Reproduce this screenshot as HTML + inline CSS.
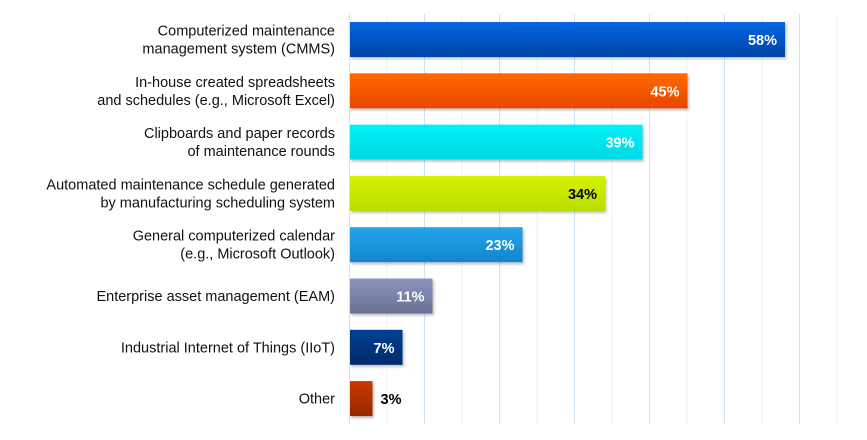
<!DOCTYPE html>
<html><head><meta charset="utf-8"><style>
body{margin:0;background:#fff;font-family:"Liberation Sans",Arial,sans-serif}
svg{display:block}
</style></head><body>
<svg id="chart" width="867" height="440">
<defs>
<filter id="sh" x="-5%" y="-10%" width="115%" height="140%"><feDropShadow dx="1.5" dy="2" stdDeviation="1.2" flood-color="#000" flood-opacity="0.25"/></filter>
</defs>
<g id="grid"></g><g id="bars"></g><g id="labels"></g>
</svg>
<script>
const categories=[["Computerized maintenance","management system (CMMS)"],["In-house created spreadsheets","and schedules (e.g., Microsoft Excel)"],["Clipboards and paper records","of maintenance rounds"],["Automated maintenance schedule generated","by manufacturing scheduling system"],["General computerized calendar","(e.g., Microsoft Outlook)"],["Enterprise asset management (EAM)"],["Industrial Internet of Things (IIoT)"],["Other"]];
const values=[58,45,39,34,23,11,7,3];
const colorsTop=["#0766e2","#ff6a00","#06f2f6","#d4f200","#22a6ea","#8c94bc","#003f92","#c83a00"];
const colorsBot=["#0045a6","#e84600","#00d8e4","#b8dc00","#1284cc","#6a7194","#002a6c","#962800"];
const textColors=["#fff","#fff","#fff","#000","#fff","#fff","#fff","#000"];
const gridTicks=[0,5,10,15,20,25,30,35,40,45,50,55,60,65];
const NS="http://www.w3.org/2000/svg";
const x0=350,pxPer=7.5,top0=39.5,pitch=51.3,bh=35;
const xs=v=>x0+v*pxPer, ys=i=>top0+i*pitch;
const svg=document.getElementById('chart'),G=document.getElementById('grid'),B=document.getElementById('bars'),L=document.getElementById('labels');
function mk(t,a,p){const e=document.createElementNS(NS,t);for(const k in a)e.setAttribute(k,a[k]);p.appendChild(e);return e;}
const defs=svg.querySelector('defs');
gridTicks.forEach(t=>{
 const l=mk('line',{x1:xs(t)-0.5,x2:xs(t)-0.5,y1:14,y2:424,stroke:t%10===0?'#cfe3f7':'#eaf3fc','stroke-width':1},G);
 
 
});
values.forEach((v,i)=>{
 const gid='g'+i;
 const g=mk('linearGradient',{id:gid,x1:0,y1:0,x2:0,y2:1},defs);
 mk('stop',{offset:0,'stop-color':colorsTop[i]},g);mk('stop',{offset:1,'stop-color':colorsBot[i]},g);
 const cy=ys(i);
 const r=mk('rect',{x:x0,y:cy-bh/2,width:xs(v)-x0,height:bh,fill:'url(#'+gid+')',filter:'url(#sh)'},B);
 
 
 const inside=v>5;
 const vt=mk('text',{x:inside?xs(v)-8:xs(v)+8,y:cy+5.5,'text-anchor':inside?'end':'start','font-size':14.5,'font-weight':'bold',fill:textColors[i]},L);
 vt.textContent=v+'%';
 
 
 const lines=categories[i];
 const t=mk('text',{x:335,'text-anchor':'end','font-size':14.5,fill:'#111'},L);
 
 
 lines.forEach((s,j)=>{const ts=mk('tspan',{x:335,y:cy+5-(lines.length-1)*9+j*18},t);ts.textContent=s;});
});
</script>
</body></html>
